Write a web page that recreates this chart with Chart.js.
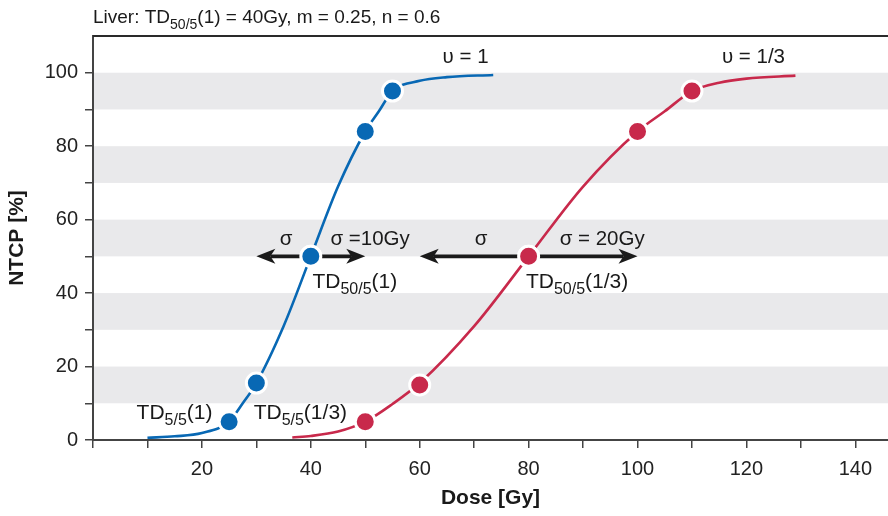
<!DOCTYPE html>
<html>
<head>
<meta charset="utf-8">
<script src="https://cdn.jsdelivr.net/npm/chart.js@4.4.1/dist/chart.umd.min.js"></script>
<style>
  body { margin: 0; background: #fff; }
</style>
</head>
<body>
<canvas id="ntcp-chart" width="888" height="516"></canvas>
<script>
// curve, v = 1
const doseWhole = [10, 15, 20, 25, 27.5, 30, 35, 40, 45, 50, 52.5, 55, 60, 65, 73.5];
const ntcpWhole = [0.6, 1.0, 1.9, 5, 10, 15.5, 31, 50, 69, 84, 89.5, 95, 97.8, 98.8, 99.4];
// curve, v = 1/3
const doseThird = [36.6, 40, 45, 50, 55, 60, 70, 80, 90, 100, 105, 110, 115, 120, 129];
const ntcpThird = [0.7, 1.1, 2.3, 5, 9.8, 15.5, 31, 50, 69, 84, 89.5, 95, 97.3, 98.4, 99.2];
// highlighted points
const dotDoseWhole = [25, 30, 40, 50, 55];
const dotNtcpWhole = [5, 15.5, 50, 84, 95];
const dotDoseThird = [50, 60, 80, 100, 110];
const dotNtcpThird = [5, 15, 50, 84, 95];
// sigma arrows: [from, to, at ntcp]
const sigmaWhole = [30, 50, 50];
const sigmaThird = [60, 100, 50];

const blue = '#0868b4';
const red = '#c8294b';
const font = '"Liberation Sans", Arial, Helvetica, sans-serif';

const pairs = (xs, ys) => xs.map((x, i) => ({ x: x, y: ys[i] }));

// text labels, anchored in data units: [x, y, size, parts]; part = [text, subscript?]
const labels = [
  [40.3, 41.4, 21, [['TD'], ['50/5', 1], ['(1)']]],
  [79.5, 41.4, 21, [['TD'], ['50/5', 1], ['(1/3)']]],
  [8.0, 5.8, 21, [['TD'], ['5/5', 1], ['(1)']]],
  [29.5, 5.8, 21, [['TD'], ['5/5', 1], ['(1/3)']]],
  [34.3, 53.0, 20.5, [['σ']]],
  [43.6, 53.0, 20.5, [['σ =10Gy']]],
  [70.1, 53.0, 20.5, [['σ']]],
  [85.7, 53.0, 20.5, [['σ = 20Gy']]],
  [64.2, 102.6, 20.5, [['υ = 1']]],
  [115.5, 102.6, 20.5, [['υ = 1/3']]]
];

function richText(ctx, x, y, parts, size) {
  ctx.textAlign = 'left';
  ctx.textBaseline = 'alphabetic';
  parts.forEach(p => {
    const sub = p[1];
    ctx.font = (sub ? Math.round(size * 0.75) : size) + 'px ' + font;
    ctx.fillText(p[0], x, sub ? y + 6 : y);
    x += ctx.measureText(p[0]).width;
  });
}

function arrow(ctx, x1, x2, y) {
  const head = 19, half = 7.5, notch = 5;
  ctx.strokeStyle = '#1a1a1a';
  ctx.fillStyle = '#1a1a1a';
  ctx.lineWidth = 3.6;
  ctx.beginPath();
  ctx.moveTo(x1 + head - notch, y);
  ctx.lineTo(x2 - head + notch, y);
  ctx.stroke();
  ctx.beginPath();
  ctx.moveTo(x1, y);
  ctx.lineTo(x1 + head, y - half);
  ctx.lineTo(x1 + head - notch, y);
  ctx.lineTo(x1 + head, y + half);
  ctx.closePath();
  ctx.fill();
  ctx.beginPath();
  ctx.moveTo(x2, y);
  ctx.lineTo(x2 - head, y - half);
  ctx.lineTo(x2 - head + notch, y);
  ctx.lineTo(x2 - head, y + half);
  ctx.closePath();
  ctx.fill();
}

const decor = {
  id: 'decor',
  beforeDatasetsDraw(chart) {
    const { ctx, chartArea: a, scales: { y } } = chart;
    ctx.save();
    ctx.fillStyle = '#e9e9eb';
    for (let v = 10; v < 100; v += 20) {
      const top = y.getPixelForValue(v + 10), bot = y.getPixelForValue(v);
      ctx.fillRect(a.left + 1, top, a.right - a.left, bot - top);
    }
    ctx.restore();
  },
  afterDatasetsDraw(chart) {
    const { ctx, scales: { x, y } } = chart;
    ctx.save();
    [sigmaWhole, sigmaThird].forEach(s => {
      arrow(ctx, x.getPixelForValue(s[0]), x.getPixelForValue(s[1]), y.getPixelForValue(s[2]));
    });
    // redraw the middle dots over the arrows
    [[40, 50, blue], [80, 50, red]].forEach(d => {
      ctx.beginPath();
      ctx.arc(x.getPixelForValue(d[0]), y.getPixelForValue(d[1]), 10, 0, Math.PI * 2);
      ctx.fillStyle = d[2];
      ctx.fill();
      ctx.lineWidth = 3;
      ctx.strokeStyle = '#fff';
      ctx.stroke();
    });
    ctx.fillStyle = '#1a1a1a';
    labels.forEach(l => richText(ctx, x.getPixelForValue(l[0]), y.getPixelForValue(l[1]), l[3], l[2]));
    ctx.restore();
  },
  afterDraw(chart) {
    const { ctx, chartArea: a } = chart;
    ctx.save();
    ctx.strokeStyle = '#2a2a2a';
    ctx.lineWidth = 2;
    ctx.beginPath();
    ctx.moveTo(a.left, a.top);
    ctx.lineTo(a.right, a.top);
    ctx.stroke();
    ctx.fillStyle = '#1a1a1a';
    richText(ctx, a.left, a.top - 13,
      [['Liver: TD'], ['50/5', 1], ['(1) = 40Gy, m = 0.25, n = 0.6']], 19);
    ctx.restore();
  }
};

const lineSet = (xs, ys, color) => ({
  type: 'line',
  data: pairs(xs, ys),
  borderColor: color,
  borderWidth: 2.6,
  pointRadius: 0,
  cubicInterpolationMode: 'monotone',
  fill: false,
  order: 2
});
const dotSet = (xs, ys, color) => ({
  type: 'scatter',
  data: pairs(xs, ys),
  backgroundColor: color,
  borderColor: '#fff',
  borderWidth: 3,
  pointRadius: 10,
  order: 1
});

const axisGrid = {
  display: true,
  drawOnChartArea: false,
  drawTicks: true,
  tickLength: 8,
  color: '#444',
  lineWidth: 1.5
};
const tickFont = { family: font, size: 20 };
const titleFont = { family: font, size: 21, weight: 'bold' };

new Chart(document.getElementById('ntcp-chart').getContext('2d'), {
  type: 'scatter',
  data: {
    datasets: [
      dotSet(dotDoseWhole, dotNtcpWhole, blue),
      dotSet(dotDoseThird, dotNtcpThird, red),
      lineSet(doseWhole, ntcpWhole, blue),
      lineSet(doseThird, ntcpThird, red)
    ]
  },
  options: {
    responsive: false,
    animation: false,
    layout: { autoPadding: false, padding: { top: 36, right: 0, left: 0, bottom: 0 } },
    plugins: { legend: { display: false }, tooltip: { enabled: false } },
    scales: {
      x: {
        type: 'linear',
        min: 0,
        max: 146,
        afterBuildTicks: s => { s.ticks = []; for (let v = 0; v <= 140; v += 10) s.ticks.push({ value: v }); },
        afterFit: s => { s.height = 76; s.paddingLeft = 0; s.paddingRight = 0; },
        grid: axisGrid,
        border: { display: true, color: '#444', width: 2 },
        ticks: {
          color: '#222',
          font: tickFont,
          padding: 9,
          maxRotation: 0,
          autoSkip: false,
          callback: v => (v > 0 && v % 20 === 0 ? String(v) : '')
        },
        title: { display: true, text: 'Dose [Gy]', color: '#1a1a1a', font: titleFont, padding: { top: 0, bottom: 5 } }
      },
      y: {
        type: 'linear',
        min: 0,
        max: 110,
        afterBuildTicks: s => { s.ticks = []; for (let v = 0; v <= 100; v += 10) s.ticks.push({ value: v }); },
        afterFit: s => { s.width = 93; s.paddingTop = 0; s.paddingBottom = 0; },
        grid: axisGrid,
        border: { display: true, color: '#444', width: 2 },
        ticks: {
          color: '#222',
          font: tickFont,
          padding: 7,
          autoSkip: false,
          callback: v => (v % 20 === 0 ? String(v) : '')
        },
        title: { display: true, text: 'NTCP [%]', color: '#1a1a1a', font: titleFont, padding: { top: 5, bottom: 0 } }
      }
    }
  },
  plugins: [decor]
});
</script>
</body>
</html>
